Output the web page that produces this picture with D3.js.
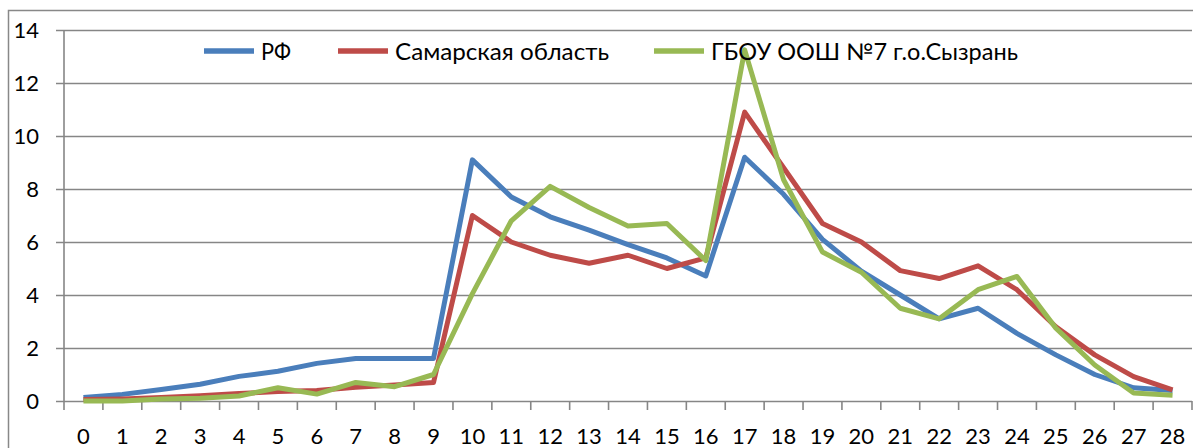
<!DOCTYPE html>
<html><head><meta charset="utf-8">
<script src="https://cdn.jsdelivr.net/npm/d3@7"></script>
<style>
html,body{margin:0;padding:0;background:#fff;}
svg{display:block;}
text{font-family:Lato,"Open Sans",sans-serif;fill:#000;}
</style></head>
<body><svg id="c" width="1193" height="448"></svg>
<script>
const categories = d3.range(0, 29).map(String);
const seriesNames = ["РФ", "Самарская область", "ГБОУ ООШ №7 г.о.Сызрань"];
const rf = [0.13,0.25,0.43,0.63,0.93,1.12,1.42,1.6,1.6,1.6,9.1,7.7,6.95,6.45,5.9,5.4,4.72,9.2,7.8,6.1,4.9,4.0,3.1,3.5,2.55,1.74,1.0,0.5,0.4];
const samara = [0.06,0.08,0.13,0.2,0.28,0.36,0.4,0.52,0.6,0.7,7.0,6.0,5.5,5.2,5.5,5.0,5.4,10.9,8.8,6.7,6.0,4.92,4.62,5.1,4.2,2.8,1.74,0.92,0.42];
const school = [0.0,0.0,0.08,0.1,0.19,0.5,0.26,0.7,0.54,1.0,4.05,6.8,8.1,7.3,6.6,6.7,5.3,13.25,8.35,5.62,4.86,3.5,3.1,4.2,4.7,2.75,1.36,0.3,0.22];
const yTicks = [0,2,4,6,8,10,12,14];
const colors = ["#4A7EBB", "#BE4B48", "#98B954"];

(function(){
const svg = d3.select("#c");
const mL = 64, mR = 1192, mT = 30, mB = 401;
const x = d3.scaleBand().domain(categories).range([mL, mR]).paddingInner(0).paddingOuter(0);
const y = d3.scaleLinear().domain([0, 14]).range([mB, mT]);

svg.append("rect").attr("x", 8.5).attr("y", 10.5).attr("width", 1200).attr("height", 460)
  .attr("fill", "none").attr("stroke", "#888").attr("stroke-width", 1.5);

const yAxis = d3.axisLeft(y).tickValues(yTicks).tickSize(0).tickPadding(0).tickFormat(d3.format("d"));
const gy = svg.append("g").attr("transform", `translate(${mL},0)`).call(yAxis);
gy.select(".domain").remove();
gy.selectAll(".tick line").attr("x1", -8).attr("x2", mR - mL).attr("stroke", "#868686").attr("stroke-width", 1.6);
gy.selectAll(".tick text").attr("x", -25).attr("dy", "0.36em").style("font-size", "22px").attr("text-anchor", "end");

svg.append("line").attr("x1", mL).attr("x2", mL).attr("y1", mT).attr("y2", mB + 9)
  .attr("stroke", "#868686").attr("stroke-width", 1.6);

const boundaries = categories.map(c => x(c)).concat([x(categories[categories.length - 1]) + x.bandwidth()]);
svg.append("g").selectAll("line").data(boundaries.slice(1)).join("line")
  .attr("x1", d => d).attr("x2", d => d).attr("y1", mB).attr("y2", mB + 9)
  .attr("stroke", "#868686").attr("stroke-width", 1.6);

const xAxis = d3.axisBottom(x).tickSize(0).tickPadding(0);
const gx = svg.append("g").attr("transform", `translate(0,${mB})`).call(xAxis);
gx.select(".domain").remove();
gx.selectAll(".tick text").attr("y", 42.5).attr("dy", 0).style("font-size", "22px");

const all = [rf, samara, school];
const line = d3.line().x((d, i) => x(categories[i]) + x.bandwidth() / 2).y(d => y(d));
svg.append("g").selectAll("path").data(all).join("path")
  .attr("d", d => line(d)).attr("fill", "none")
  .attr("stroke", (d, i) => colors[i]).attr("stroke-width", 5).attr("stroke-linejoin", "round");

const legX = [204, 338, 654];
const legW = [30, 214, 307];
const lg = svg.append("g");
seriesNames.forEach((n, i) => {
  lg.append("line").attr("x1", legX[i]).attr("x2", legX[i] + 50).attr("y1", 51).attr("y2", 51)
    .attr("stroke", colors[i]).attr("stroke-width", 5.5);
  lg.append("text").attr("x", legX[i] + 57).attr("y", 60).style("font-size", "23px")
    .attr("textLength", legW[i]).attr("lengthAdjust", "spacingAndGlyphs").text(n);
});
})();
</script></body></html>
